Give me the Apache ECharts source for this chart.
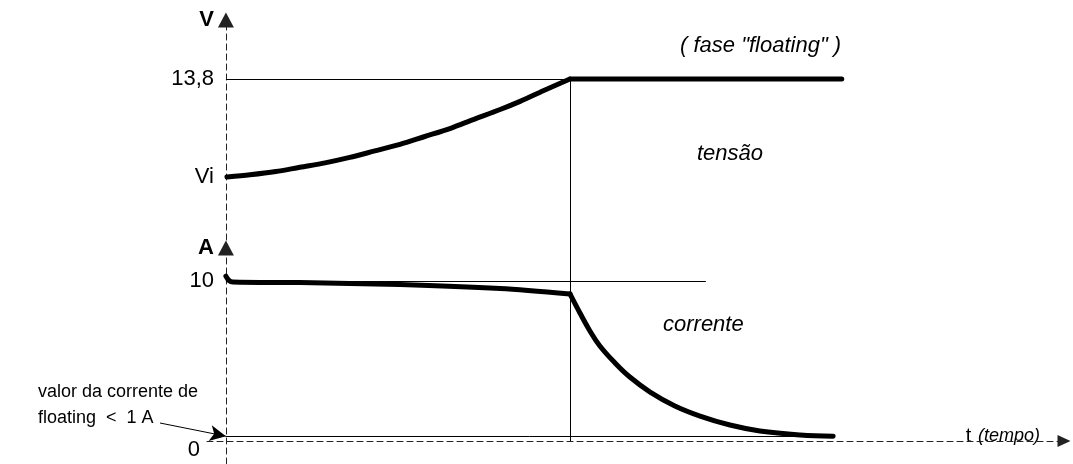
<!DOCTYPE html>
<html>
<head>
<meta charset="utf-8">
<script src="https://cdn.jsdelivr.net/npm/echarts@6/dist/echarts.min.js"></script>
<style>
  html, body { margin: 0; padding: 0; background: #fff; }
  #chart { width: 1073px; height: 464px; }
</style>
</head>
<body>
<div id="chart"></div>
<script>
// tempo em unidades arbitrárias (fim da carga = 100)
const tensaoTempo = [0.3, 7.0, 14.5, 21.5, 28.8, 36.0, 43.3, 50.6, 57.6, 65.1, 72.1, 79.7, 85.5, 92.4, 100, 179]
const tensaoValor = [12.0, 12.04, 12.10, 12.18, 12.26, 12.36, 12.48, 12.60, 12.74, 12.89, 13.06, 13.24, 13.39, 13.59, 13.8, 13.8]

const correnteTempo = [0, 0.9, 2, 21.5, 50.6, 79.7, 100, 102.9, 105.8, 108.7, 113.1, 117.4, 123.3, 130.5, 137.8, 146.5, 155.2, 166.9, 176.5]
const correnteValor = [10.3, 10.03, 9.94, 9.9, 9.78, 9.53, 9.19, 8.0, 6.88, 5.94, 4.88, 4.0, 3.06, 2.19, 1.56, 1.0, 0.63, 0.38, 0.3]

// rótulos dos eixos
const tensaoTicks = [12.0, 13.8]
const tensaoTickLabels = ['Vi', '13,8']
const correnteTicks = [0, 10]
const correnteTickLabels = ['0', '10']

// níveis de referência
const V_FLOATING = 13.8
const I_MAX = 10
const I_FLOATING = 0.3
const T_FIM_CARGA = 100
const T_FIM_REF_CORRENTE = 139.5
const T_FIM_CORRENTE = correnteTempo[correnteTempo.length - 1]

const FONT = 'Liberation Sans, Arial, sans-serif'
const FS = 22

const chart = echarts.init(document.getElementById('chart'))

const dashedAxis = { color: '#222', width: 1, type: [6, 4] }
const thinLine = { color: '#000', width: 1, type: 'solid' }
const thickLine = { color: '#000', width: 5, cap: 'round', join: 'round' }

// pontos [t, v] de um trecho (índices inclusivos)
const trecho = (ts, vs, de, ate) => ts.slice(de, ate + 1).map((t, i) => [t, vs[de + i]])
const iKneeV = tensaoTempo.indexOf(T_FIM_CARGA)
const iKneeI = correnteTempo.indexOf(T_FIM_CARGA)

const tickFormatter = (ticks, labels) => (v) => {
  const i = ticks.indexOf(v)
  if (i < 0) return ''
  return v === 0 ? '{z|' + labels[i] + '}' : labels[i]
}

const baseMarkLine = {
  silent: true,
  symbol: ['none', 'none'],
  label: { show: false },
  lineStyle: thinLine,
  animation: false
}

const axisName = {
  fontWeight: 'bold',
  fontSize: FS,
  color: '#000',
  align: 'right',
  verticalAlign: 'middle',
  padding: [0, 12, 0, 0]
}

const curva = (name, grid, data, smooth, extra) => Object.assign({
  name: name,
  type: 'line',
  xAxisIndex: grid,
  yAxisIndex: grid,
  data: data,
  showSymbol: false,
  symbol: 'none',
  smooth: smooth,
  lineStyle: thickLine,
  z: 3
}, extra || {})

const option = {
  animation: false,
  backgroundColor: '#fff',
  textStyle: { fontFamily: FONT, color: '#000' },
  grid: [
    { left: 207, right: 9, top: 20, height: 230 },
    { left: 207, right: 9, top: 248, height: 216 }
  ],
  xAxis: [
    {
      gridIndex: 0,
      type: 'value',
      min: -5.5,
      max: 243.6,
      axisLine: { show: false },
      axisTick: { show: false },
      axisLabel: { show: false },
      splitLine: { show: false }
    },
    {
      gridIndex: 1,
      type: 'value',
      min: -5.5,
      max: 243.6,
      axisLine: {
        onZero: true,
        symbol: ['none', 'triangle'],
        symbolSize: [12, 13],
        lineStyle: dashedAxis
      },
      axisTick: { show: false },
      axisLabel: { show: false },
      splitLine: { show: false },
      name: '{t|t}  {i|(tempo)}',
      nameLocation: 'end',
      nameGap: -24,
      nameTextStyle: {
        align: 'right',
        verticalAlign: 'middle',
        padding: [0, 0, 10, 0],
        rich: {
          t: { fontSize: 20, fontFamily: FONT, color: '#000' },
          i: { fontSize: 18, fontFamily: FONT, fontStyle: 'italic', color: '#000' }
        }
      }
    }
  ],
  yAxis: [
    {
      gridIndex: 0,
      type: 'value',
      min: 10.66,
      max: 14.884,
      axisLine: {
        onZero: true,
        symbol: ['none', 'triangle'],
        symbolSize: [16, 15],
        lineStyle: dashedAxis
      },
      axisTick: { show: false },
      splitLine: { show: false },
      axisLabel: {
        customValues: tensaoTicks,
        formatter: tickFormatter(tensaoTicks, tensaoTickLabels),
        margin: -7,
        fontSize: FS,
        color: '#000'
      },
      name: 'V',
      nameLocation: 'end',
      nameGap: 0,
      nameTextStyle: axisName
    },
    {
      gridIndex: 1,
      type: 'value',
      min: -1.4375,
      max: 12.0625,
      axisLine: {
        onZero: true,
        symbol: ['none', 'triangle'],
        symbolSize: [16, 15],
        lineStyle: dashedAxis
      },
      axisTick: { show: false },
      splitLine: { show: false },
      axisLabel: {
        customValues: correnteTicks,
        formatter: tickFormatter(correnteTicks, correnteTickLabels),
        margin: -7,
        fontSize: FS,
        color: '#000',
        rich: {
          z: { fontSize: FS, fontFamily: FONT, color: '#000', padding: [18, 14, 0, 0] }
        }
      },
      name: 'A',
      nameLocation: 'end',
      nameGap: 0,
      nameTextStyle: axisName
    }
  ],
  series: [
    curva('tensão', 0, trecho(tensaoTempo, tensaoValor, 0, iKneeV), 0.3, {
      markLine: Object.assign({}, baseMarkLine, {
        data: [
          [{ coord: [0, V_FLOATING] }, { coord: [T_FIM_CARGA, V_FLOATING] }],
          [{ coord: [T_FIM_CARGA, V_FLOATING] }, { coord: [T_FIM_CARGA, 10.67] }]
        ]
      })
    }),
    curva('tensão floating', 0, trecho(tensaoTempo, tensaoValor, iKneeV, tensaoTempo.length - 1), false),
    curva('corrente', 1, trecho(correnteTempo, correnteValor, 0, iKneeI), 0.3, {
      markLine: Object.assign({}, baseMarkLine, {
        data: [
          [{ coord: [0, I_MAX] }, { coord: [T_FIM_REF_CORRENTE, I_MAX] }],
          [{ coord: [T_FIM_CARGA, 12.06] }, { coord: [T_FIM_CARGA, 0] }],
          [{ coord: [0, I_FLOATING] }, { coord: [T_FIM_CORRENTE, I_FLOATING] }],
          // seta da nota "valor da corrente de floating"
          [{ x: 160, y: 423 }, { coord: [0, I_FLOATING], symbol: 'arrow', symbolSize: [12, 16] }]
        ]
      })
    }),
    curva('corrente floating', 1, trecho(correnteTempo, correnteValor, iKneeI, correnteTempo.length - 1), 0.4)
  ],
  graphic: [
    {
      type: 'text', left: 680, top: 35,
      style: { text: '( fase "floating" )', fontSize: FS, fontFamily: FONT, fontStyle: 'italic', fill: '#000' }
    },
    {
      type: 'text', left: 697, top: 143,
      style: { text: 'tensão', fontSize: FS, fontFamily: FONT, fontStyle: 'italic', fill: '#000' }
    },
    {
      type: 'text', left: 663, top: 314,
      style: { text: 'corrente', fontSize: FS, fontFamily: FONT, fontStyle: 'italic', fill: '#000' }
    },
    {
      type: 'text', left: 38, top: 379,
      style: { text: 'valor da corrente de\nfloating  <  1 A', fontSize: 18, fontFamily: FONT, lineHeight: 26, fill: '#000' }
    }
  ]
}

chart.setOption(option)
</script>
</body>
</html>
